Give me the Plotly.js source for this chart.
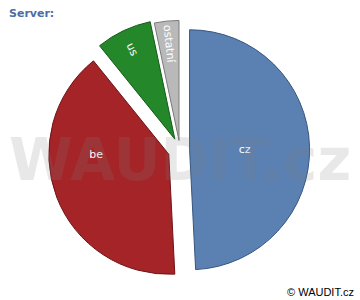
<!DOCTYPE html>
<html><head><meta charset="utf-8">
<script src="https://cdn.plot.ly/plotly-3.0.1.min.js"></script>
<style>body{margin:0;}#c{width:360px;height:300px;}</style>
</head><body><div id="c"></div>
<script>
const labels = ["cz", "be", "us", "ostatní"];
const values = [49.2, 40.0, 7.5, 3.3];
const colors = ["#5b80b2", "#a42428", "#24872a", "#b9b9b9"];
const lineColors = ["#36557f", "#6e1416", "#145a17", "#7a7a7a"];

const trace = {
  type: "pie",
  labels: labels,
  values: values,
  sort: false,
  direction: "clockwise",
  rotation: 0,
  pull: [0.08, 0.1, 0.1, 0.08],
  marker: {colors: colors, line: {color: lineColors, width: 1}},
  textinfo: "label",
  textposition: "inside",
  insidetextorientation: "radial",
  textfont: {family: "DejaVu Sans", size: 11, color: "#ffffff"},
  hoverinfo: "none",
  domain: {x: [0, 1], y: [0.06, 0.94]}
};

const layout = {
  width: 360, height: 300,
  margin: {l: 0, r: 0, t: 0, b: 0},
  paper_bgcolor: "#ffffff",
  showlegend: false,
  annotations: [
    {text: "<b>Server:</b>", xref: "paper", yref: "paper", x: 0.02, y: 0.985, xanchor: "left", yanchor: "top", showarrow: false,
     font: {family: "DejaVu Sans", size: 11, color: "#4a6ea5"}},
    {text: "<b>WAUDIT.cz</b>", xref: "paper", yref: "paper", x: 0.5, y: 0.465, xanchor: "center", yanchor: "middle", showarrow: false,
     font: {family: "DejaVu Sans", size: 58, color: "rgba(128,128,128,0.18)"}},
    {text: "© WAUDIT.cz", xref: "paper", yref: "paper", x: 0.99, y: 0.0, xanchor: "right", yanchor: "bottom", showarrow: false,
     font: {family: "Liberation Sans", size: 11, color: "#000000"}}
  ]
};

Plotly.newPlot("c", [trace], layout, {staticPlot: true, displayModeBar: false});
</script>
</body></html>
